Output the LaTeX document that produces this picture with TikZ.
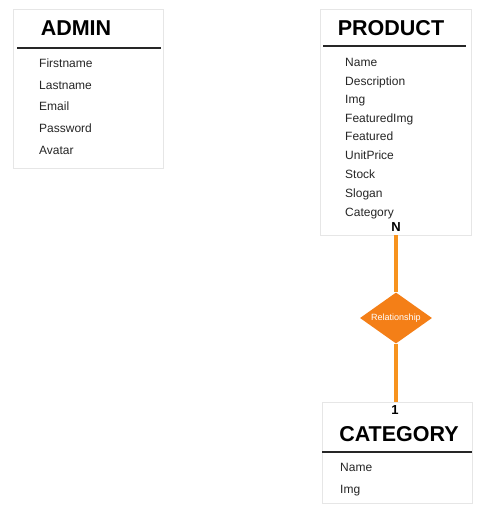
\documentclass[tikz,border=0pt]{standalone}
\usepackage{fontspec}
\setmainfont{Liberation Sans}
\usetikzlibrary{shapes.geometric}
\definecolor{orline}{HTML}{F7931E}
\definecolor{ordia}{HTML}{F47F17}
\definecolor{boxedge}{HTML}{E6E6E6}
\tikzset{
  entbox/.style={draw=boxedge, line width=0.8pt, fill=white},
  enttitle/.style={font=\fontsize{21.5}{22}\selectfont\bfseries, text=black, inner sep=0pt},
  attr/.style={font=\fontsize{12}{12}\selectfont, text=black!85, anchor=base west, inner sep=0pt},
  rule/.style={line width=1.4pt, draw=black!85},
  rel/.style={draw=orline, line width=4.5pt},
  card/.style={font=\fontsize{13}{13}\selectfont\bfseries, inner sep=0pt},
  reldia/.style={diamond, fill=ordia, draw=none, minimum width=72pt, minimum height=51pt, inner sep=0pt, aspect=1.4, text=white, font=\fontsize{9}{9}\selectfont}
}
\begin{document}
\begin{tikzpicture}[x=1pt,y=-1pt]
\useasboundingbox (0,0) rectangle (484,515);
% ADMIN
\draw[entbox] (13,9) rectangle (163,168);
\node[enttitle] (admint) at (76,28) {ADMIN};
\draw[rule] (17,48) -- (161,48);
\node[attr] (a1) at (39,67.5) {Firstname};
\node[attr] (a2) at (39,89.5) {Lastname};
\node[attr] (a3) at (39,110.5) {Email};
\node[attr] (a4) at (39,132.5) {Password};
\node[attr] (a5) at (39,154.5) {Avatar};
% PRODUCT
\draw[entbox] (320,9) rectangle (471,235);
\node[enttitle] (prodt) at (391,28) {PRODUCT};
\draw[rule] (323,46) -- (466,46);
\node[attr] (p1) at (345,66.5) {Name};
\node[attr] (p2) at (345,85) {Description};
\node[attr] (p3) at (345,103.5) {Img};
\node[attr] (p4) at (345,122) {FeaturedImg};
\node[attr] (p5) at (345,140.5) {Featured};
\node[attr] (p6) at (345,159.5) {UnitPrice};
\node[attr] (p7) at (345,178) {Stock};
\node[attr] (p8) at (345,197) {Slogan};
\node[attr] (p9) at (345,216) {Category};
\coordinate (prodbot) at (396,235);
% CATEGORY
\coordinate (cattop) at (396,402);
% relationship
\node[reldia] (rel) at (396,318) {Relationship};
\draw[rel] (prodbot) -- (rel.north);
\draw[rel] (rel.south) -- (cattop);
\draw[entbox] (322,402) rectangle (472,503);
\node[card] (nN) at (396,227) {N};
\node[card] (n1) at (395,410) {1};
\node[enttitle] (catt) at (399,434) {CATEGORY};
\draw[rule] (322,452) -- (472,452);
\node[attr] (c1) at (340,471.5) {Name};
\node[attr] (c2) at (340,493.5) {Img};
\end{tikzpicture}
\end{document}
